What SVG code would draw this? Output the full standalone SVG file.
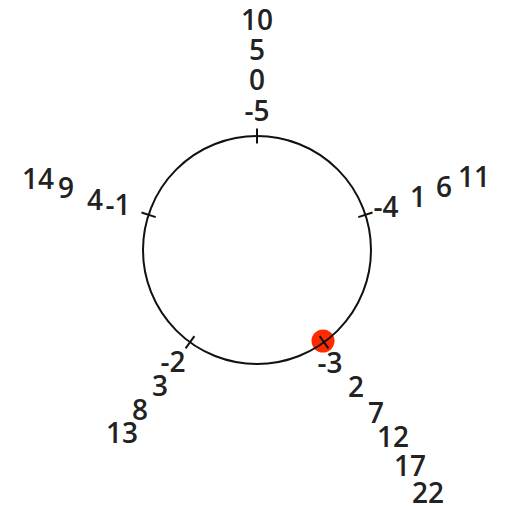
<svg xmlns="http://www.w3.org/2000/svg" width="508" height="509" viewBox="0 0 508 509">
<style>
text{font-family:"Open Sans","Liberation Sans",sans-serif;font-size:28px;font-weight:600;fill:#222;text-anchor:middle}
.ln{stroke:#111;stroke-width:2;fill:none}
</style>
<rect width="508" height="509" fill="#fff"/>
<g id="marker-dot"><circle cx="323" cy="341" r="11.5" fill="#ff2a00"/></g>
<g id="connectors">
<circle class="ln" cx="257" cy="250" r="114"/>
<line class="ln" x1="257" y1="128.5" x2="257" y2="143.5"/>
<line class="ln" x1="358.3" y1="217.1" x2="372.5" y2="212.5"/>
<line class="ln" x1="319.6" y1="336.1" x2="328.4" y2="348.3"/>
<line class="ln" x1="194.4" y1="336.1" x2="185.6" y2="348.3"/>
<line class="ln" x1="155.7" y1="217.1" x2="141.5" y2="212.5"/>
</g>
<g id="spoke-top">
<text x="257" y="30">10</text>
<text x="257" y="60">5</text>
<text x="257" y="90">0</text>
<text x="257" y="121">-5</text>
</g>
<g id="spoke-right">
<text x="386" y="217">-4</text>
<text x="418" y="207">1</text>
<text x="444" y="197">6</text>
<text x="474" y="187">11</text>
</g>
<g id="spoke-lower-right">
<text x="330" y="373">-3</text>
<text x="356" y="397">2</text>
<text x="376" y="423">7</text>
<text x="393" y="447">12</text>
<text x="410" y="476">17</text>
<text x="428" y="503">22</text>
</g>
<g id="spoke-lower-left">
<text x="173" y="372">-2</text>
<text x="160" y="396">3</text>
<text x="140" y="420">8</text>
<text x="122" y="443">13</text>
</g>
<g id="spoke-left">
<text x="118" y="215">-1</text>
<text x="95" y="210">4</text>
<text x="66" y="198">9</text>
<text x="38" y="189">14</text>
</g>
</svg>
